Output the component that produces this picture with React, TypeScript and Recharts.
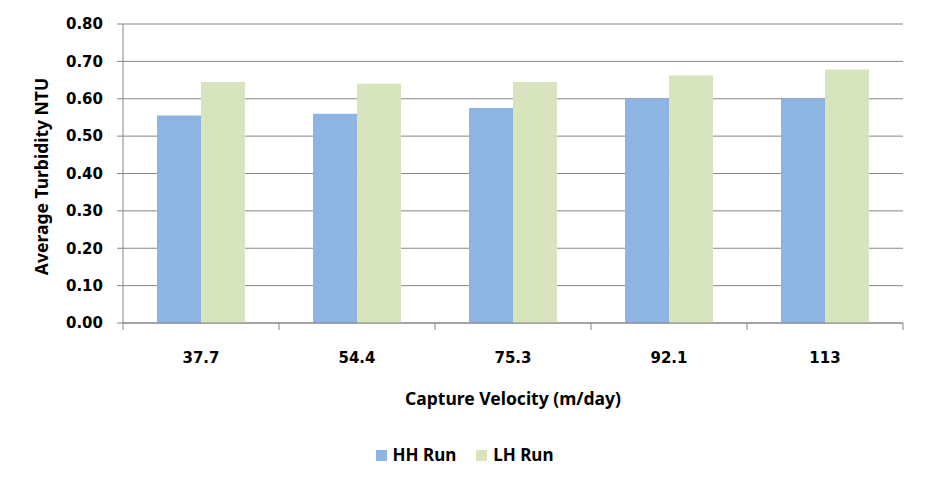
import { Bar, BarChart, CartesianGrid, Legend, XAxis, YAxis } from 'recharts';

const categories = ['37.7', '54.4', '75.3', '92.1', '113'];
const hhRun = [0.555, 0.56, 0.575, 0.6, 0.6];
const lhRun = [0.645, 0.64, 0.645, 0.662, 0.678];
const yTicks = [0, 0.1, 0.2, 0.3, 0.4, 0.5, 0.6, 0.7, 0.8];

const seriesNames = { hh: 'HH Run', lh: 'LH Run' };
const colors = { hh: '#8EB4E3', lh: '#D7E4BD', axis: '#868686' };

const data = categories.map((c, i) => ({ velocity: c, hh: hhRun[i], lh: lhRun[i] }));

const tickFont = { fontFamily: '"DejaVu Sans", sans-serif', fontWeight: 700, fontSize: 15 };
const titleFont = { fontFamily: '"Noto Sans", sans-serif', fontWeight: 700, fontSize: 17.5 };

function CategoryTick(props: any) {
  const { x, y, payload, index, visibleTicksCount } = props;
  const half = payload?.offset || 78;
  return (
    <g>
      <line x1={x - half} x2={x - half} y1={y} y2={y + 7} stroke={colors.axis} />
      {index === visibleTicksCount - 1 && (
        <line x1={x + half} x2={x + half} y1={y} y2={y + 7} stroke={colors.axis} />
      )}
      <text x={x} y={y + 35} dy="0.35em" textAnchor="middle" fill="#000" {...tickFont}>
        {payload.value}
      </text>
    </g>
  );
}

function LegendBox() {
  const items = [
    { key: 'hh', label: seriesNames.hh, color: colors.hh },
    { key: 'lh', label: seriesNames.lh, color: colors.lh },
  ];
  return (
    <div
      style={{
        display: 'flex',
        justifyContent: 'center',
        gap: 20,
        paddingTop: 10,
        paddingLeft: 26,
        ...titleFont,
        fontSize: 17,
        lineHeight: '24px',
      }}
    >
      {items.map((it) => (
        <div key={it.key} style={{ display: 'flex', alignItems: 'center', gap: 6 }}>
          <span style={{ width: 11, height: 11, background: it.color, display: 'inline-block' }} />
          <span>{it.label}</span>
        </div>
      ))}
    </div>
  );
}

export default function App() {
  return (
    <div style={{ position: 'absolute', left: 0, top: 0, background: '#fff' }}>
      <BarChart
        width={926}
        height={487}
        data={data}
        margin={{ top: 24, right: 23, left: 0, bottom: 0 }}
        barCategoryGap="21.8%"
        barGap={0}
      >
        <CartesianGrid vertical={false} stroke={colors.axis} />
        <XAxis
          dataKey="velocity"
          height={110}
          tickLine={false}
          tickSize={0}
          tickMargin={0}
          axisLine={{ stroke: colors.axis }}
          tick={<CategoryTick />}
          interval={0}
          label={({ viewBox }: any) => (
            <text
              x={viewBox.x + viewBox.width / 2}
              y={viewBox.y + 76}
              dy="0.35em"
              textAnchor="middle"
              fill="#000"
              {...titleFont}
            >
              Capture Velocity (m/day)
            </text>
          )}
        />
        <YAxis
          width={123}
          domain={[0, 0.8]}
          ticks={yTicks}
          interval={0}
          tickFormatter={(v: number) => v.toFixed(2)}
          tick={{ fill: '#000', ...tickFont }}
          tickSize={6}
          tickMargin={14}
          tickLine={{ stroke: colors.axis }}
          axisLine={{ stroke: colors.axis }}
          label={({ viewBox }: any) => (
            <text
              x={42}
              y={viewBox.y + viewBox.height / 2 + 3}
              dy="0.35em"
              textAnchor="middle"
              fill="#000"
              transform={`rotate(-90, 42, ${viewBox.y + viewBox.height / 2 + 3})`}
              {...titleFont}
            >
              Average Turbidity NTU
            </text>
          )}
        />
        <Legend verticalAlign="bottom" height={54} wrapperStyle={{ height: 54 }} content={<LegendBox />} />
        <Bar dataKey="hh" name={seriesNames.hh} fill={colors.hh} isAnimationActive={false} />
        <Bar dataKey="lh" name={seriesNames.lh} fill={colors.lh} isAnimationActive={false} />
      </BarChart>
    </div>
  );
}
